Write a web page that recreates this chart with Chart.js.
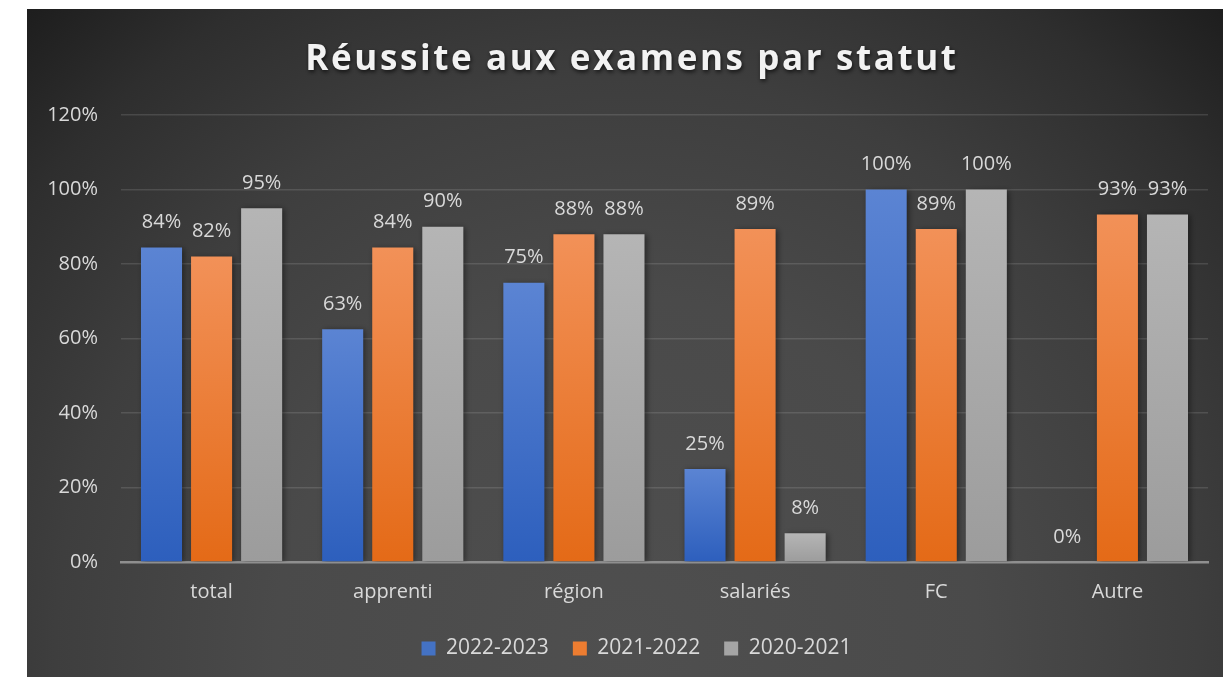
<!DOCTYPE html>
<html><head><meta charset="utf-8">
<script src="https://cdn.jsdelivr.net/npm/chart.js@4/dist/chart.umd.min.js"></script>
<style>
html,body{margin:0;padding:0;background:#fff;}
#wrap{position:absolute;left:27px;top:9px;width:1196px;height:668px;}
</style></head>
<body>
<div id="wrap"><canvas id="c" width="1196" height="668"></canvas></div>
<script>
const titleText = 'Réussite aux examens par statut';
const categories = ['total', 'apprenti', 'région', 'salariés', 'FC', 'Autre'];
const seriesNames = ['2022-2023', '2021-2022', '2020-2021'];
const values2223 = [0.844, 0.625, 0.75, 0.25, 1.00, 0];
const values2122 = [0.82, 0.844, 0.88, 0.894, 0.894, 0.933];
const values2021 = [0.95, 0.90, 0.88, 0.077, 1.00, 0.933];
const yTicks = [0, 0.2, 0.4, 0.6, 0.8, 1.0, 1.2];

const FONT = "'Open Sans', 'Liberation Sans', sans-serif";
const TXT = '#d9d9d9';
const grads = [
  ['#5b84d3', '#2d5fbd'],
  ['#f29158', '#e46a17'],
  ['#b5b5b5', '#9c9c9c']
];
const solid = ['#4472c4', '#ed7d31', '#a5a5a5'];

function barFill(i) {
  return function(ctx) {
    const chart = ctx.chart;
    const y = chart.scales && chart.scales.y;
    if (!chart.chartArea || !y || ctx.raw === undefined) return solid[i];
    const top = y.getPixelForValue(ctx.raw);
    const bot = y.getPixelForValue(0);
    if (!isFinite(top) || bot - top < 1) return solid[i];
    const g = chart.ctx.createLinearGradient(0, top, 0, bot);
    g.addColorStop(0, grads[i][0]);
    g.addColorStop(1, grads[i][1]);
    return g;
  };
}

const bgPlugin = {
  id: 'bg',
  afterLayout(chart) {
    if (chart.legend) {
      chart.legend.left += 19;
      chart.legend.right += 19;
    }
  },
  beforeDraw(chart) {
    const c = chart.ctx, w = chart.width, h = chart.height;
    c.save();
    const g = c.createRadialGradient(600, 640, 0, 600, 640, 880);
    g.addColorStop(0, '#4f4f4f');
    g.addColorStop(0.4, '#4a4a4a');
    g.addColorStop(0.65, '#3e3e3e');
    g.addColorStop(0.85, '#2e2e2e');
    g.addColorStop(1, '#1d1d1d');
    c.fillStyle = g;
    c.fillRect(0, 0, w, h);
    // title
    c.font = "bold 35px " + FONT;
    c.textAlign = 'center';
    c.textBaseline = 'alphabetic';
    try { c.letterSpacing = '2.6px'; } catch (e) {}
    c.shadowColor = 'rgba(0,0,0,0.7)';
    c.shadowBlur = 4;
    c.shadowOffsetX = 1;
    c.shadowOffsetY = 2;
    c.fillStyle = '#f2f2f2';
    c.fillText(titleText, 605, 61);
    c.restore();
  },
  beforeDatasetsDraw(chart) {
    const c = chart.ctx;
    c.save();
    c.shadowColor = 'rgba(0,0,0,0.45)';
    c.shadowBlur = 6;
    c.shadowOffsetX = 2;
    c.shadowOffsetY = 1;
  },
  afterDatasetsDraw(chart) {
    const c = chart.ctx;
    c.restore();
    c.save();
    c.font = "20px " + FONT;
    c.fillStyle = TXT;
    c.textAlign = 'center';
    c.textBaseline = 'middle';
    chart.data.datasets.forEach((ds, di) => {
      const meta = chart.getDatasetMeta(di);
      meta.data.forEach((bar, i) => {
        const v = ds.data[i];
        c.fillText(Math.round(v * 100) + '%', bar.x, bar.y - 25);
      });
    });
    c.restore();
  }
};

new Chart(document.getElementById('c'), {
  type: 'bar',
  data: {
    labels: categories,
    datasets: [
      { label: seriesNames[0], data: values2223, backgroundColor: barFill(0) },
      { label: seriesNames[1], data: values2122, backgroundColor: barFill(1) },
      { label: seriesNames[2], data: values2021, backgroundColor: barFill(2) }
    ]
  },
  options: {
    responsive: false,
    animation: false,
    categoryPercentage: 0.829,
    barPercentage: 0.82,
    layout: { padding: { top: 106, right: 15, left: 0, bottom: 8 } },
    scales: {
      x: {
        grid: { display: false, drawTicks: false },
        border: { display: true, color: '#8f8f8f', width: 2.5 },
        afterFit(scale) { scale.height = 52; },
        ticks: { color: TXT, font: { family: FONT, size: 20 }, padding: 18 }
      },
      y: {
        min: 0, max: 1.2,
        afterBuildTicks(scale) { scale.ticks = yTicks.map(v => ({ value: v })); },
        afterFit(scale) { scale.width = 94; },
        border: { display: false },
        grid: {
          drawTicks: false,
          color: (ctx) => ctx.tick && ctx.tick.value === 0 ? 'rgba(0,0,0,0)' : 'rgba(255,255,255,0.12)',
          lineWidth: 1.5
        },
        ticks: {
          color: TXT, font: { family: FONT, size: 20 }, padding: 23,
          callback: (v) => Math.round(v * 100) + '%'
        }
      }
    },
    plugins: {
      title: { display: false },
      tooltip: { enabled: false },
      legend: {
        position: 'bottom',
        labels: {
          color: TXT,
          font: { family: FONT, size: 21 },
          boxWidth: 14, boxHeight: 14,
          padding: 24,
          generateLabels(chart) {
            return chart.data.datasets.map((ds, i) => ({
              text: ds.label, fillStyle: solid[i], strokeStyle: solid[i], lineWidth: 0,
              fontColor: TXT, datasetIndex: i, hidden: false
            }));
          }
        }
      }
    }
  },
  plugins: [bgPlugin]
});
</script>
</body></html>
